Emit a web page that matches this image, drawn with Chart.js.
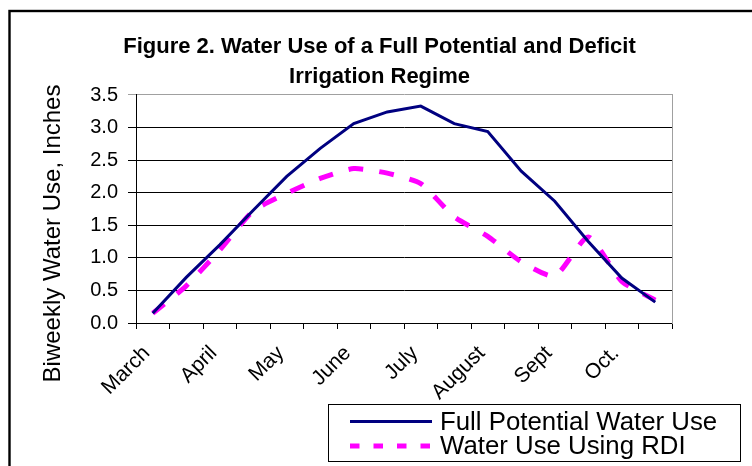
<!DOCTYPE html>
<html>
<head>
<meta charset="utf-8">
<script src="https://cdn.jsdelivr.net/npm/chart.js@4"></script>
<style>
  html, body { margin: 0; padding: 0; background: #fff; }
  #wrap { width: 752px; height: 466px; position: relative; }
</style>
</head>
<body>
<div id="wrap"><canvas id="waterChart" width="752" height="466"></canvas></div>
<script>
// biweekly periods, one month name every second period
const months = ['March', 'April', 'May', 'June', 'July', 'August', 'Sept', 'Oct.'];
const periods = months.flatMap(m => [m, '']);

const fullUse = [0.15, 0.70, 1.20, 1.73, 2.25, 2.68, 3.06, 3.24, 3.33, 3.06, 2.94, 2.33, 1.87, 1.25, 0.69, 0.32];
const rdiUse = [0.15, 0.57, 1.12, 1.72, 1.99, 2.22, 2.37, 2.30, 2.14, 1.63, 1.33, 0.94, 0.72, 1.32, 0.64, 0.35];

const yTicks = [0, 0.5, 1, 1.5, 2, 2.5, 3, 3.5];

const titleLines = ['Figure 2. Water Use of a Full Potential and Deficit', 'Irrigation Regime'];
const yTitle = 'Biweekly Water Use, Inches';

const FONT = "'Liberation Sans', Arial, sans-serif";

// outer frame, rotated y title and the boxed legend
const extras = {
    id: 'extras',
    afterDraw(chart) {
        const ctx = chart.ctx;
        ctx.save();
        ctx.strokeStyle = '#000';
        ctx.lineWidth = 2.4;
        ctx.strokeRect(9.5, 11, 800, 500);

        // y axis title
        ctx.fillStyle = '#000';
        ctx.font = '24px ' + FONT;
        ctx.textAlign = 'center';
        ctx.textBaseline = 'alphabetic';
        ctx.translate(60, 233.5);
        ctx.rotate(-Math.PI / 2);
        ctx.fillText(yTitle, 0, 0);
        ctx.restore();

        // legend
        ctx.save();
        ctx.strokeStyle = '#000';
        ctx.lineWidth = 1;
        ctx.strokeRect(328.5, 404.5, 412, 57);
        ctx.font = '25.8px ' + FONT;
        ctx.fillStyle = '#000';
        ctx.textBaseline = 'alphabetic';
        const rows = [421.5, 446];
        chart.data.datasets.forEach((ds, i) => {
            const y = rows[i];
            ctx.beginPath();
            ctx.strokeStyle = ds.borderColor;
            ctx.lineWidth = i === 0 ? 3 : 5;
            ctx.setLineDash(i === 0 ? [] : [9.5, 14]);
            ctx.moveTo(350, y);
            ctx.lineTo(432, y);
            ctx.stroke();
            ctx.setLineDash([]);
            ctx.fillText(ds.label, 440, y + 8);
        });
        ctx.restore();
    }
};

new Chart(document.getElementById('waterChart'), {
    type: 'line',
    data: {
        labels: periods,
        datasets: [
            {
                label: 'Full Potential Water Use',
                data: fullUse,
                borderColor: '#000080',
                borderWidth: 3,
                pointRadius: 0,
                tension: 0,
                fill: false
            },
            {
                label: 'Water Use Using RDI',
                data: rdiUse,
                borderColor: '#ff00ff',
                borderWidth: 5,
                borderDash: [15, 16],
                borderCapStyle: 'butt',
                pointRadius: 0,
                tension: 0.2,
                fill: false
            }
        ]
    },
    options: {
        responsive: false,
        animation: false,
        layout: { padding: { left: 7, right: 0, top: 0, bottom: 0 } },
        plugins: {
            legend: { display: false },
            tooltip: { enabled: false },
            title: {
                display: true,
                text: titleLines,
                color: '#000',
                font: { family: FONT, size: 22, weight: 'bold', lineHeight: 1.3636 },
                padding: { top: 32.4, bottom: 2.6 }
            }
        },
        scales: {
            x: {
                offset: true,
                grid: { offset: true, drawOnChartArea: false, drawTicks: true, tickLength: 6, color: '#000' },
                border: { color: '#000', width: 1 },
                ticks: {
                    autoSkip: false,
                    minRotation: 45,
                    maxRotation: 45,
                    padding: 12,
                    labelOffset: -6,
                    color: '#000',
                    font: { family: FONT, size: 21 }
                },
                afterFit(scale) { scale.height = 143; }
            },
            y: {
                min: 0,
                max: 3.5,
                afterBuildTicks(scale) { scale.ticks = yTicks.map(v => ({ value: v })); },
                grid: {
                    color: c => (c.tick && c.tick.value === 3.5 ? '#a0a0a0' : '#000'),
                    lineWidth: 1,
                    tickLength: 8,
                    drawTicks: true
                },
                border: { color: '#000', width: 1 },
                ticks: {
                    padding: 10,
                    color: '#000',
                    font: { family: FONT, size: 20 },
                    callback: v => Number(v).toFixed(1)
                },
                afterFit(scale) { scale.width = 129; }
            },
            yRight: {
                position: 'right',
                grid: { display: false },
                ticks: { display: false },
                border: { display: true, color: '#a0a0a0', width: 1 },
                afterFit(scale) { scale.width = 80; }
            }
        }
    },
    plugins: [extras]
});
</script>
</body>
</html>
